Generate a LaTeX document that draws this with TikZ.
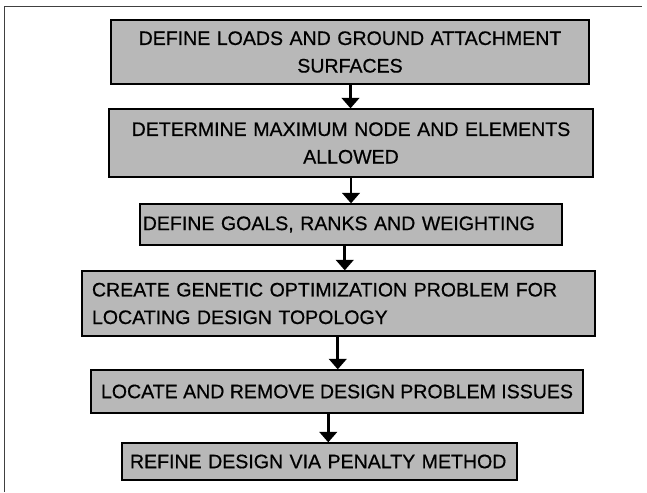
\documentclass[tikz,border=0pt]{standalone}
\usepackage{fontspec}
\setmainfont{Liberation Sans}
\usetikzlibrary{positioning,calc,arrows.meta}

\begin{document}
\begin{tikzpicture}[stepbox/.style={draw=black, line width=0.9pt, fill=black!28, inner xsep=0.25cm, inner ysep=0pt, font=\fontsize{13.9pt}{19.6pt}\selectfont\addfontfeatures{FakeBold=0.6}}, flow/.style={-{Triangle[width=12.5pt,length=7.5pt]}, line width=2.1pt}, node distance=2cm]
  \useasboundingbox (0,0) rectangle (16.175,-12.3);
  \draw[black!75, line width=0.6pt] (0.1,-12.3) -- (0.1,-0.15) -- (16.05,-0.15);

  \node[stepbox, text width=11.45cm, align=center, minimum height=1.6cm] (1) at (8.75,-1.3) {DEFINE LOADS AND GROUND ATTACHMENT\\SURFACES};
  \node[stepbox, text width=11.6cm, align=center, minimum height=1.7cm] (2) [below of=1, yshift=-0.275cm, xshift=0.025cm] {DETERMINE MAXIMUM NODE AND ELEMENTS\\ALLOWED};
  \node[stepbox, inner xsep=0.07cm, text width=10.41cm, align=left, minimum height=1.025cm] (3) [below of=2, yshift=-0.0375cm] {DEFINE GOALS, RANKS AND WEIGHTING};
  \node[stepbox, text width=12.325cm, align=left, minimum height=1.625cm] (4) [below of=3, yshift=0.025cm, xshift=-0.3125cm] {CREATE GENETIC OPTIMIZATION PROBLEM FOR\\LOCATING DESIGN TOPOLOGY};
  \node[stepbox, minimum width=12.05cm, minimum height=1.075cm] (5) [below of=4, yshift=-0.2cm, xshift=-0.0375cm] {LOCATE AND REMOVE DESIGN PROBLEM ISSUES};
  \node[stepbox, inner xsep=0.2cm, text width=9.475cm, align=left, minimum height=0.925cm] (6) [below of=5, yshift=0.25cm, xshift=-0.4375cm] {REFINE DESIGN VIA PENALTY METHOD};

  \foreach \a/\b in {1/2,2/3,3/4,4/5,5/6}
    \path ($(\a.center)!.5!(\b.center)$) coordinate (m\a)
      (m\a |- \a.south) edge[flow] (m\a |- \b.north);
\end{tikzpicture}
\end{document}
